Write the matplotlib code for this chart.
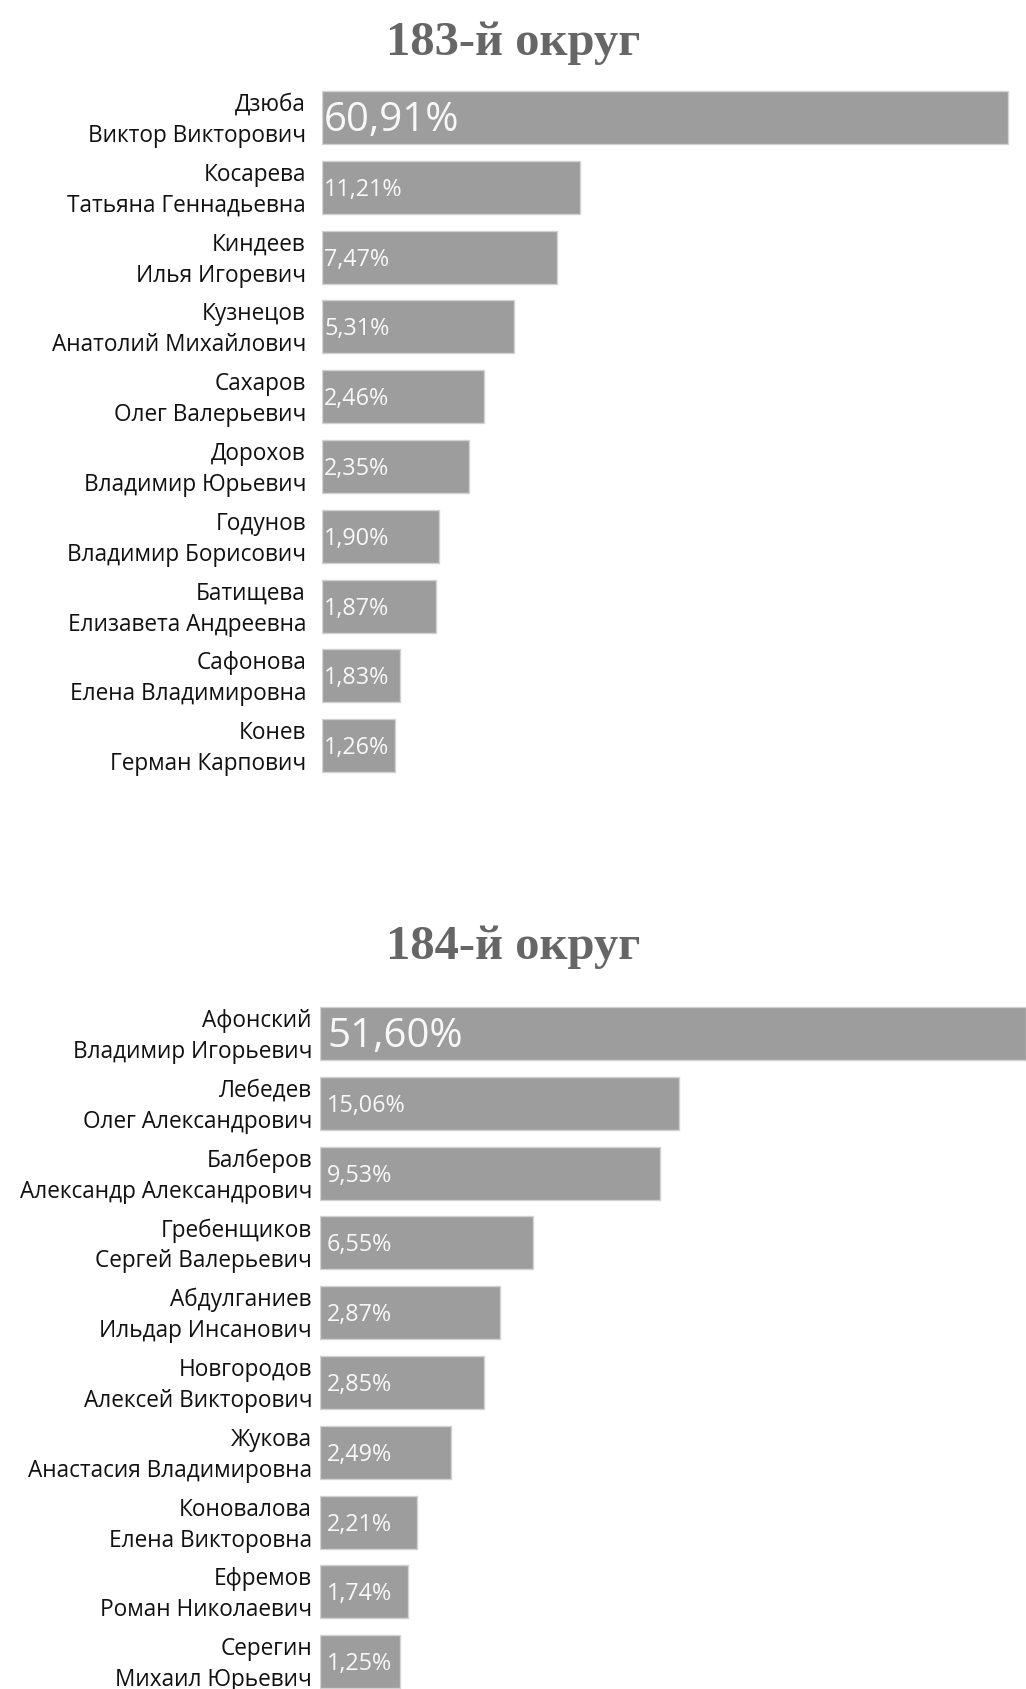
import matplotlib
matplotlib.use('Agg')
import matplotlib.pyplot as plt

# ---- data ----
title_183 = "183-й округ"
surnames_183 = ["Дзюба", "Косарева", "Киндеев", "Кузнецов", "Сахаров",
                "Дорохов", "Годунов", "Батищева", "Сафонова", "Конев"]
given_183 = ["Виктор Викторович", "Татьяна Геннадьевна", "Илья Игоревич",
             "Анатолий Михайлович", "Олег Валерьевич", "Владимир Юрьевич",
             "Владимир Борисович", "Елизавета Андреевна", "Елена Владимировна",
             "Герман Карпович"]
pct_183 = [60.91, 11.21, 7.47, 5.31, 2.46, 2.35, 1.90, 1.87, 1.83, 1.26]
# bar lengths as drawn in the picture (not proportional to the percentages)
bar_183 = [686, 258, 235, 192, 162, 147, 117, 114, 78, 73]

title_184 = "184-й округ"
surnames_184 = ["Афонский", "Лебедев", "Балберов", "Гребенщиков", "Абдулганиев",
                "Новгородов", "Жукова", "Коновалова", "Ефремов", "Серегин"]
given_184 = ["Владимир Игорьевич", "Олег Александрович", "Александр Александрович",
             "Сергей Валерьевич", "Ильдар Инсанович", "Алексей Викторович",
             "Анастасия Владимировна", "Елена Викторовна", "Роман Николаевич",
             "Михаил Юрьевич"]
pct_184 = [51.60, 15.06, 9.53, 6.55, 2.87, 2.85, 2.49, 2.21, 1.74, 1.25]
bar_184 = [706, 359, 340, 213, 180, 164, 131, 97, 88, 80]

# ---- layout ----
W, H = 1026, 1689
fig = plt.figure(figsize=(W / 100, H / 100), dpi=100)
fig.patch.set_facecolor('white')

BAR_COLOR = '#9d9d9d'
EDGE_COLOR = '#d2d2d2'
NAME_FONT = 'Open Sans'
PITCH = 69.8


def fmt(v):
    return f"{v:.2f}".replace('.', ',') + '%'


def panel(title, title_y, first_center, x0, label_x, val_dx, surnames, given, pct, lengths):
    n = len(lengths)
    top_px = first_center - PITCH / 2
    bot_px = first_center + (n - 0.5) * PITCH
    ax = fig.add_axes([x0 / W, 1 - bot_px / H, (W - x0) / W, (bot_px - top_px) / H])
    ax.set_xlim(0, W - x0)
    ax.set_ylim(n - 0.5, -0.5)
    ax.axis('off')
    ax.barh(range(n), lengths, height=0.76, color=BAR_COLOR,
            edgecolor=EDGE_COLOR, linewidth=1.0)
    for i in range(n):
        ax.text(label_x - x0, i - 0.18, surnames[i], ha='right', va='center',
                fontsize=16.3, family=NAME_FONT, color='#111111')
        ax.text(label_x - x0, i + 0.265, given[i], ha='right', va='center',
                fontsize=16.3, family=NAME_FONT, color='#111111')
        ax.text(val_dx, i + (0.05 if i == 0 else 0.035), fmt(pct[i]), ha='left', va='center',
                fontsize=29 if i == 0 else 16.8, family=NAME_FONT, color='#f8f8f8')
    fig.text(0.5, 1 - title_y / H, title, ha='center', va='center',
             fontsize=35, family='Liberation Serif', fontweight='bold',
             color='#666666')


panel(title_183, 43, 117.5, 322, 306, 2, surnames_183, given_183, pct_183, bar_183)
panel(title_184, 947, 1033.5, 320, 312, 7, surnames_184, given_184, pct_184, bar_184)

fig.savefig('out.png', dpi=100, facecolor='white')
